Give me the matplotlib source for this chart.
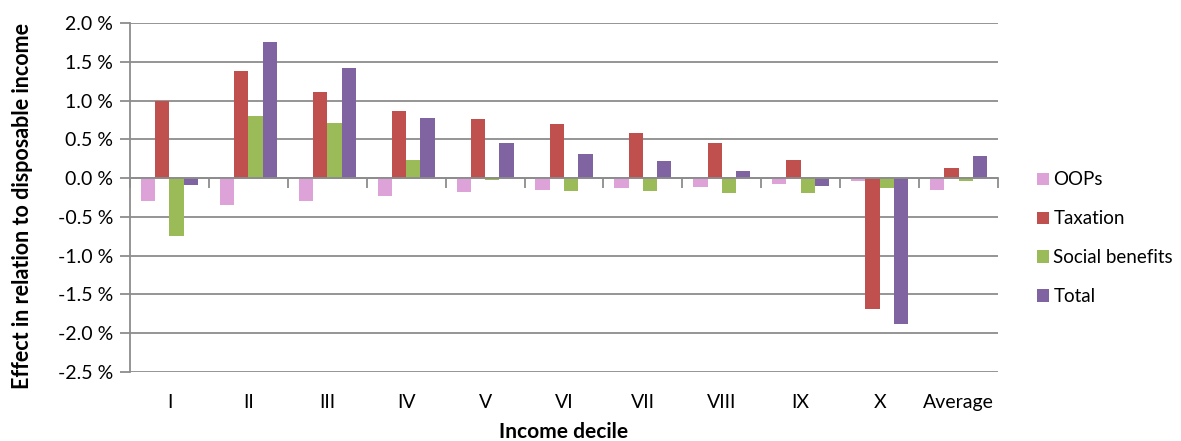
import numpy as np
import matplotlib
matplotlib.use('Agg')
import matplotlib.pyplot as plt

deciles = ['I', 'II', 'III', 'IV', 'V', 'VI', 'VII', 'VIII', 'IX', 'X', 'Average']
series = ['OOPs', 'Taxation', 'Social benefits', 'Total']

oops = [-0.30, -0.35, -0.29, -0.23, -0.18, -0.15, -0.13, -0.11, -0.08, -0.04, -0.15]
taxation = [0.99, 1.38, 1.11, 0.86, 0.76, 0.70, 0.58, 0.455, 0.23, -1.69, 0.135]
social = [-0.74, 0.80, 0.705, 0.235, -0.03, -0.16, -0.17, -0.19, -0.19, -0.13, -0.04]
total = [-0.085, 1.755, 1.42, 0.775, 0.45, 0.31, 0.215, 0.095, -0.10, -1.885, 0.29]

colors = ['#DDA2D7', '#C0504D', '#9BBB59', '#8064A2']
grid_col = '#8C8C8C'

plt.rcParams['font.family'] = ['Lato', 'DejaVu Sans']
fs = 14

fig = plt.figure(figsize=(11.81, 4.41), dpi=100)
ax = fig.add_axes([130 / 1181, 1 - 372 / 441, (998 - 130) / 1181, (372 - 23) / 441])

x = np.arange(len(deciles))
w = 0.181
for i, (name, vals) in enumerate(zip(series, [oops, taxation, social, total])):
    ax.bar(x + (i - 1.5) * w, vals, w, color=colors[i], label=name, zorder=3)

ax.set_xlim(-0.5, len(deciles) - 0.5)
ax.set_ylim(-2.5, 2.0)
ax.set_yticks(np.arange(-2.5, 2.01, 0.5))
ax.set_yticklabels(['%.1f %%' % v for v in np.arange(-2.5, 2.01, 0.5)], fontsize=fs)
ax.yaxis.grid(True, color=grid_col, linewidth=1.3, zorder=0)
ax.tick_params(axis='y', length=7, width=1.3, color=grid_col, pad=5)

for s in ['top', 'right']:
    ax.spines[s].set_visible(False)
ax.spines['left'].set_color(grid_col)
ax.spines['left'].set_linewidth(1.3)
ax.spines['bottom'].set_position(('data', 0))
ax.spines['bottom'].set_color(grid_col)
ax.spines['bottom'].set_linewidth(1.3)
ax.spines['bottom'].set_zorder(4)

ax.set_xticks(x)
ax.set_xticks(np.arange(-0.5, len(deciles), 1.0), minor=True)
ax.tick_params(axis='x', which='major', length=0, labelbottom=False)
ax.tick_params(axis='x', which='minor', length=7, width=1.3, color=grid_col)

sec = ax.secondary_xaxis('bottom')
sec.set_xticks(x)
sec.set_xticklabels(deciles, fontsize=fs)
sec.tick_params(length=0, pad=16)
sec.spines['bottom'].set_visible(False)
sec.set_xlabel('Income decile', fontsize=15, fontweight='bold', labelpad=8)

ax.set_ylabel('Effect in relation to disposable income', fontsize=15.5, fontweight='bold', labelpad=18)
ax.yaxis.label.set_y(0.475)

ax.legend(loc='center left', bbox_to_anchor=(1.025, 0.383), frameon=False, fontsize=13.5,
          handlelength=0.65, handleheight=0.65, handletextpad=0.25, labelspacing=1.17)

fig.savefig('out.png', dpi=100)
